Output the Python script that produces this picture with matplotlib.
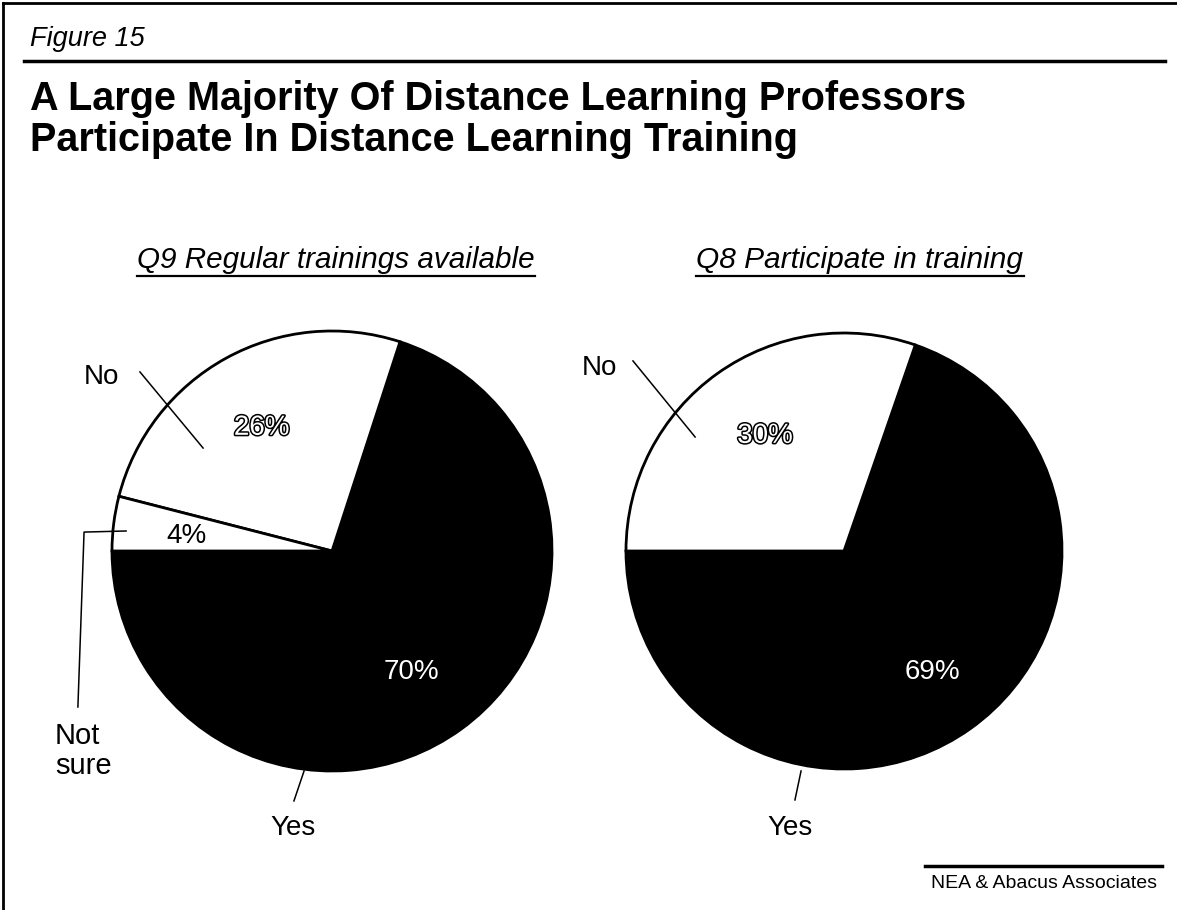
import matplotlib.pyplot as plt
import matplotlib.patheffects as pe
from matplotlib.lines import Line2D

# data
labels_q9 = ["Yes", "No", "Not sure"]
values_q9 = [70, 26, 4]
labels_q8 = ["Yes", "No"]
values_q8 = [69, 30]
colors_q9 = ["black", "white", "white"]
colors_q8 = ["black", "white"]

W, H = 1177, 910
fig = plt.figure(figsize=(W / 100, H / 100), dpi=100)
plt.rcParams['font.family'] = ['Liberation Sans', 'DejaVu Sans']


def fx(x):
    return x / W


def fy(y):
    return 1 - y / H


def pie_axes(cx, cy, r):
    ax = fig.add_axes([fx(cx - r), fy(cy + r), 2 * r / W, 2 * r / H])
    ax.set_xlim(-1, 1)
    ax.set_ylim(-1, 1)
    ax.set_aspect("equal")
    ax.axis("off")
    return ax


def draw_pie(ax, values, colors):
    wedges, _ = ax.pie(values, colors=colors, startangle=180, counterclock=True,
                       radius=1, center=(0, 0), frame=True,
                       wedgeprops=dict(edgecolor="black", linewidth=2))
    ax.set_xlim(-1, 1)
    ax.set_ylim(-1, 1)
    ax.axis("off")
    return wedges


def leader(ax, xs, ys):
    ax.add_line(Line2D(xs, ys, color="black", lw=1.1, clip_on=False))


outline = [pe.withStroke(linewidth=2.2, foreground="black")]

# left pie
ax1 = pie_axes(332, 551, 220)
draw_pie(ax1, values_q9, colors_q9)
ax1.text(-0.32, 0.56, f"{values_q9[1]}%", color="white", fontsize=20,
         ha="center", va="center", path_effects=outline)
ax1.text(-0.66, 0.07, f"{values_q9[2]}%", color="black", fontsize=20,
         ha="center", va="center")
ax1.text(0.36, -0.55, f"{values_q9[0]}%", color="white", fontsize=20,
         ha="center", va="center")
ax1.text(-1.05, 0.79, labels_q9[1], fontsize=20, ha="center", va="center")
leader(ax1, [-0.873, -0.586], [0.814, 0.468])
leader(ax1, [-0.936, -1.127, -1.155], [0.091, 0.086, -0.709])
ax1.text(-1.26, -0.91, "Not\nsure", fontsize=21, ha="left", va="center",
         linespacing=1.1)
leader(ax1, [-0.127, -0.173], [-1.0, -1.136])
ax1.text(-0.177, -1.26, labels_q9[0], fontsize=20, ha="center", va="center")

# right pie
ax2 = pie_axes(844, 551, 218)
draw_pie(ax2, values_q8, colors_q8)
ax2.text(-0.362, 0.528, f"{values_q8[1]}%", color="white", fontsize=20,
         ha="center", va="center", path_effects=outline)
ax2.text(0.404, -0.555, f"{values_q8[0]}%", color="white", fontsize=20,
         ha="center", va="center")
ax2.text(-1.12, 0.84, labels_q8[1], fontsize=20, ha="center", va="center")
leader(ax2, [-0.968, -0.683], [0.872, 0.523])
leader(ax2, [-0.197, -0.225], [-1.009, -1.142])
ax2.text(-0.248, -1.27, labels_q8[0], fontsize=20, ha="center", va="center")

# header
fig.text(fx(30), fy(46), "Figure 15", fontsize=19.5, style="italic",
         ha="left", va="baseline")
fig.add_artist(Line2D([fx(24), fx(1165)], [fy(61), fy(61)], color="black", lw=2.5))
fig.text(fx(30), fy(110), "A Large Majority Of Distance Learning Professors",
         fontsize=28.5, weight="bold", ha="left", va="baseline")
fig.text(fx(30), fy(151), "Participate In Distance Learning Training",
         fontsize=28.5, weight="bold", ha="left", va="baseline")

# frame
fig.add_artist(Line2D([fx(3), fx(1177)], [fy(3), fy(3)], color="black", lw=2))
fig.add_artist(Line2D([fx(3), fx(3)], [fy(3), fy(910)], color="black", lw=2))

# subtitles with underline
subs = [fig.text(fx(336), fy(268), "Q9 Regular trainings available", fontsize=21.3,
                 style="italic", ha="center", va="baseline"),
        fig.text(fx(860), fy(268), "Q8 Participate in training", fontsize=21.5,
                 style="italic", ha="center", va="baseline")]

# source
fig.add_artist(Line2D([fx(925), fx(1162)], [fy(866), fy(866)], color="black", lw=2.5))
fig.text(fx(931), fy(888), "NEA & Abacus Associates", fontsize=14,
         ha="left", va="baseline")

fig.canvas.draw()
r = fig.canvas.get_renderer()
for t in subs:
    bb = t.get_window_extent(r)
    yb = fy(276)
    fig.add_artist(Line2D([bb.x0 / W, bb.x1 / W], [yb, yb], color="black", lw=1.6))

fig.savefig("out.png", dpi=100)
